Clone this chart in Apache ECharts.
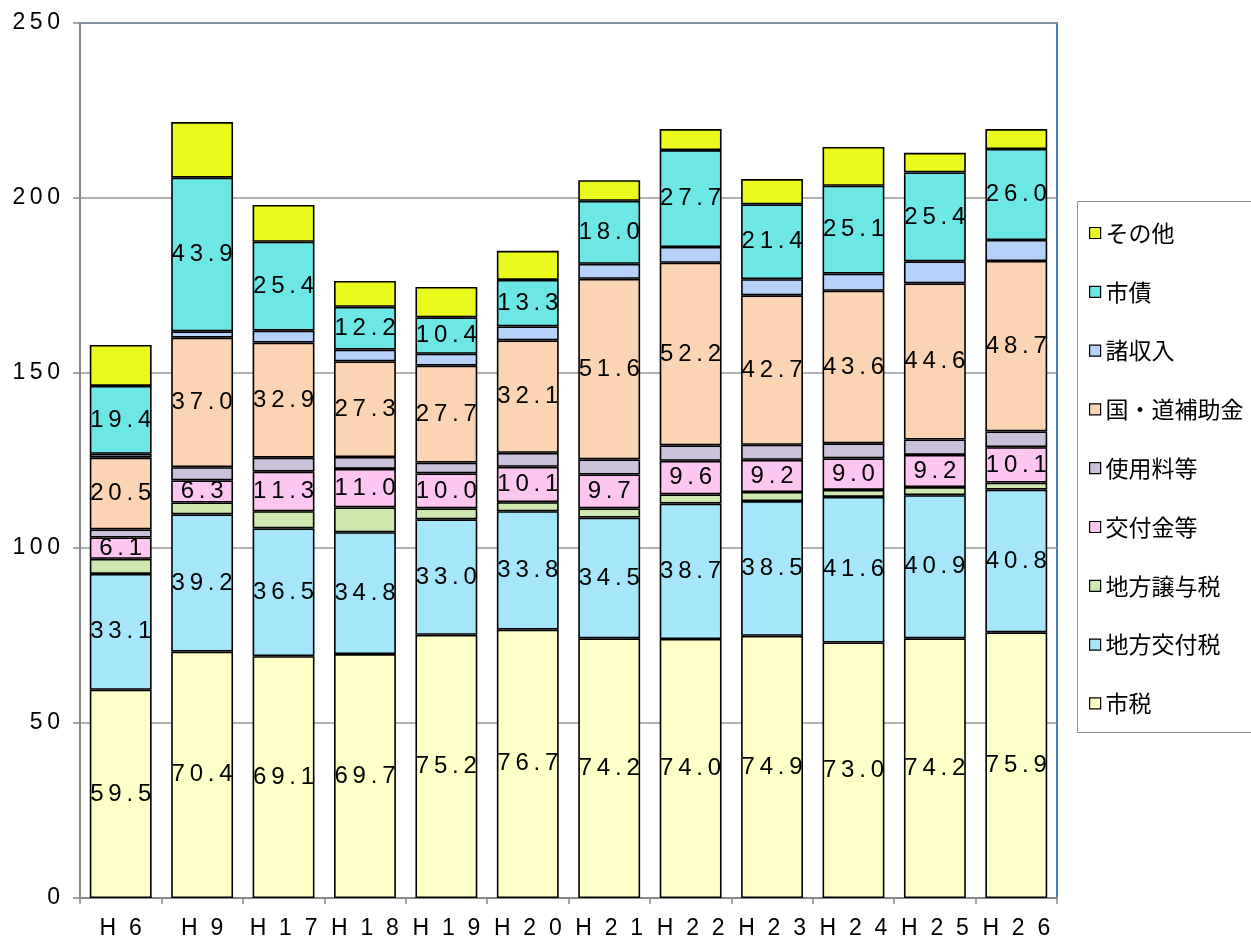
<!DOCTYPE html>
<html>
<head>
<meta charset="utf-8">
<script src="https://cdn.jsdelivr.net/npm/echarts@6/dist/echarts.min.js"></script>
<style>
  html, body { margin: 0; padding: 0; background: #fff; }
  #chart { width: 1251px; height: 937px; }
</style>
</head>
<body>
<div id="chart"></div>
<script>
// 年度
const categories = ['H6', 'H9', 'H17', 'H18', 'H19', 'H20', 'H21', 'H22', 'H23', 'H24', 'H25', 'H26'];

// 歳入の内訳（億円）
const shizei        = [59.5, 70.4, 69.1, 69.7, 75.2, 76.7, 74.2, 74.0, 74.9, 73.0, 74.2, 75.9];
const chihoKofuzei  = [33.1, 39.2, 36.5, 34.8, 33.0, 33.8, 34.5, 38.7, 38.5, 41.6, 40.9, 40.8];
const chihoJoyozei  = [4.3, 3.4, 4.9, 7.1, 3.1, 2.6, 2.6, 2.6, 2.6, 2.0, 2.3, 2.0];
const kofukinTo     = [6.1, 6.3, 11.3, 11.0, 10.0, 10.1, 9.7, 9.6, 9.2, 9.0, 9.2, 10.1];
const shiyoryoTo    = [2.3, 3.8, 4.0, 3.4, 3.1, 4.0, 4.3, 4.4, 4.3, 4.3, 4.4, 4.5];
const hojokin       = [20.5, 37.0, 32.9, 27.3, 27.7, 32.1, 51.6, 52.2, 42.7, 43.6, 44.6, 48.7];
const shoShunyu     = [1.1, 1.8, 3.4, 3.4, 3.4, 4.0, 4.3, 4.5, 4.6, 4.9, 6.3, 6.0];
const shisai        = [19.4, 43.9, 25.4, 12.2, 10.4, 13.3, 18.0, 27.7, 21.4, 25.1, 25.4, 26.0];
const sonota        = [11.7, 15.9, 10.5, 7.4, 8.7, 8.3, 5.9, 6.0, 7.2, 11.1, 5.6, 5.7];

// 縦軸の目盛
const yTicks = { min: 0, max: 250, interval: 50 };

const seriesDefs = [
  { name: '市税',         data: shizei,       color: '#FFFFC8', label: true },
  { name: '地方交付税',   data: chihoKofuzei, color: '#A6E6FA', label: true },
  { name: '地方譲与税',   data: chihoJoyozei, color: '#CFE8B0', label: false },
  { name: '交付金等',     data: kofukinTo,    color: '#FDC6F0', label: true },
  { name: '使用料等',     data: shiyoryoTo,   color: '#CCC1DA', label: false },
  { name: '国・道補助金', data: hojokin,      color: '#FBD4B4', label: true },
  { name: '諸収入',       data: shoShunyu,    color: '#B6D2FA', label: false },
  { name: '市債',         data: shisai,       color: '#6CE7E5', label: true },
  { name: 'その他',       data: sonota,       color: '#E9FA1C', label: false }
];

const latin = "'Liberation Sans', Arial, sans-serif";
const cjk = "'Noto Sans CJK JP', sans-serif";
const THIN = '\u2009';
const spaced = (s, sep) => String(s).split('').join(sep);

const chart = echarts.init(document.getElementById('chart'), null, { renderer: 'canvas' });

const option = {
  backgroundColor: '#ffffff',
  animation: false,
  grid: {
    left: 80, top: 23, right: 194, bottom: 39,
    outerBoundsMode: 'none',
    containLabel: false,
    show: true, borderColor: '#4A7EBB', borderWidth: 2, backgroundColor: 'transparent'
  },
  legend: {
    orient: 'vertical',
    left: 1084,
    top: 216,
    itemWidth: 11,
    itemHeight: 11,
    itemGap: 34.8,
    icon: 'rect',
    itemStyle: { borderColor: '#000', borderWidth: 1.2 },
    textStyle: { fontFamily: cjk, fontSize: 23, color: '#000', lineHeight: 24 },
    data: seriesDefs.map(s => s.name).reverse()
  },
  graphic: [{
    type: 'rect',
    shape: { x: 1077.5, y: 201.5, width: 180, height: 531 },
    style: { fill: 'none', stroke: '#8c8c8c', lineWidth: 1 },
    z: 0
  }],
  xAxis: {
    type: 'category',
    data: categories,
    axisLine: { lineStyle: { color: '#888', width: 2 } },
    axisTick: { show: true, length: 6, lineStyle: { color: '#888', width: 1.5 } },
    axisLabel: {
      interval: 0,
      hideOverlap: false,
      fontFamily: latin, fontSize: 23, color: '#000', margin: 19,
      formatter: v => spaced(v, '  ')
    }
  },
  yAxis: {
    type: 'value',
    min: yTicks.min, max: yTicks.max, interval: yTicks.interval,
    axisLine: { show: true, lineStyle: { color: '#888', width: 2 } },
    axisTick: { show: true, length: 7, lineStyle: { color: '#888', width: 1.5 } },
    splitLine: { lineStyle: { color: '#999', width: 1.5 } },
    axisLabel: {
      fontFamily: latin, fontSize: 23, color: '#000', margin: 20,
      formatter: v => spaced(v, THIN)
    }
  },
  series: seriesDefs.map(s => ({
    name: s.name,
    type: 'bar',
    stack: 'total',
    data: s.data,
    barCategoryGap: '24%',
    itemStyle: { color: s.color, borderColor: '#000', borderWidth: 1.6 },
    label: {
      show: s.label,
      position: 'inside',
      color: '#000',
      fontFamily: latin,
      fontSize: 24,
      formatter: p => spaced(p.value.toFixed(1), THIN)
    },
    emphasis: { disabled: true }
  }))
};

chart.setOption(option);
</script>
</body>
</html>
